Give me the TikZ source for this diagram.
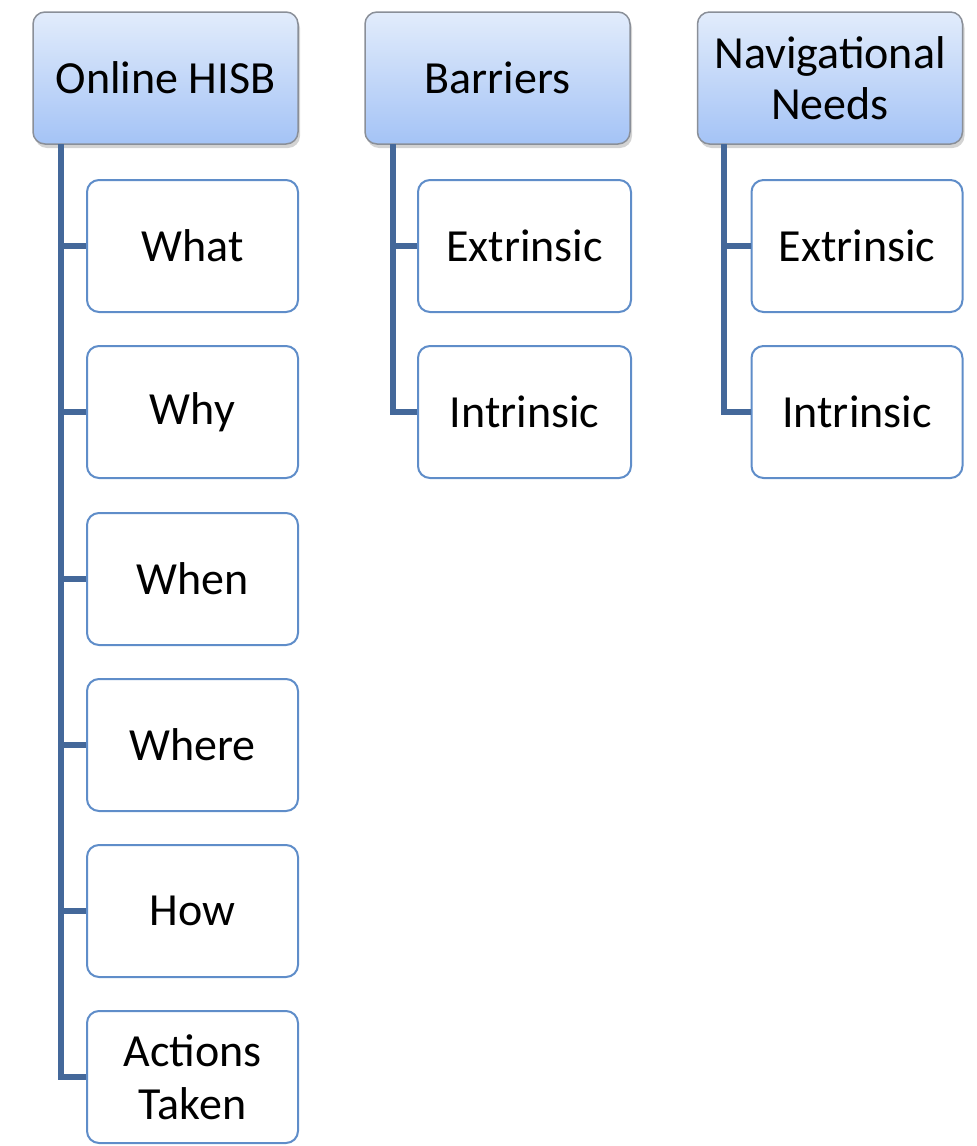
\documentclass[tikz,border=0pt]{standalone}
\usepackage{fontspec}
\setmainfont{Carlito}
\usetikzlibrary{shadows}
\definecolor{headtop}{HTML}{E2ECFB}
\definecolor{headbot}{HTML}{A4C3F6}
\definecolor{headedge}{HTML}{8A8F98}
\definecolor{childedge}{HTML}{5F8DC9}
\definecolor{linkcol}{HTML}{44689A}
\tikzset{
  x=1pt, y=-1pt,
  headbox/.style={draw=headedge, line width=1.5pt, rounded corners=12pt,
    top color=headtop, bottom color=headbot,
    drop shadow={opacity=0.35, shadow xshift=2pt, shadow yshift=-4pt},
    minimum width=265pt, minimum height=132pt, align=center,
    font=\fontsize{46}{51}\selectfont, inner sep=0pt},
  childbox/.style={draw=childedge, line width=2pt, rounded corners=12pt, fill=white,
    minimum width=211pt, minimum height=132pt, align=center,
    font=\fontsize{46}{53}\selectfont, inner sep=0pt},
  link/.style={draw=linkcol, line width=6pt}
}
\begin{document}
\begin{tikzpicture}
\useasboundingbox (0,0) rectangle (977,1146);
% headers
\node[headbox] (h1) at (165.5,78) {Online HISB};
\node[headbox] (h2) at (497.5,78) {Barriers};
\node[headbox] (h3) at (830,78) {Navigational\\Needs};
% column 1 children
\node[childbox] (c1a) at (192.5,246) {What};
\node[childbox] (c1b) at (192.5,412) {Why};
\node[childbox] (c1c) at (192.5,579) {When};
\node[childbox] (c1d) at (192.5,745) {Where};
\node[childbox] (c1e) at (192.5,911) {How};
\node[childbox] (c1f) at (192.5,1077) {Actions\\Taken};
% column 2
\node[childbox, minimum width=213pt] (c2a) at (524.5,246) {Extrinsic};
\node[childbox, minimum width=213pt] (c2b) at (524.5,412) {Intrinsic};
% column 3
\node[childbox] (c3a) at (857,246) {Extrinsic};
\node[childbox] (c3b) at (857,412) {Intrinsic};
% connectors
\coordinate (t1) at (61,144);
\coordinate (t2) at (393,144);
\coordinate (t3) at (724,144);
\path[link] (t1) |- (c1f.west);
\foreach \n in {c1a,c1b,c1c,c1d,c1e} \path[link] (t1 |- \n.west) -- (\n.west);
\path[link] (t2) |- (c2b.west);
\path[link] (t2 |- c2a.west) -- (c2a.west);
\path[link] (t3) |- (c3b.west);
\path[link] (t3 |- c3a.west) -- (c3a.west);
\end{tikzpicture}
\end{document}
